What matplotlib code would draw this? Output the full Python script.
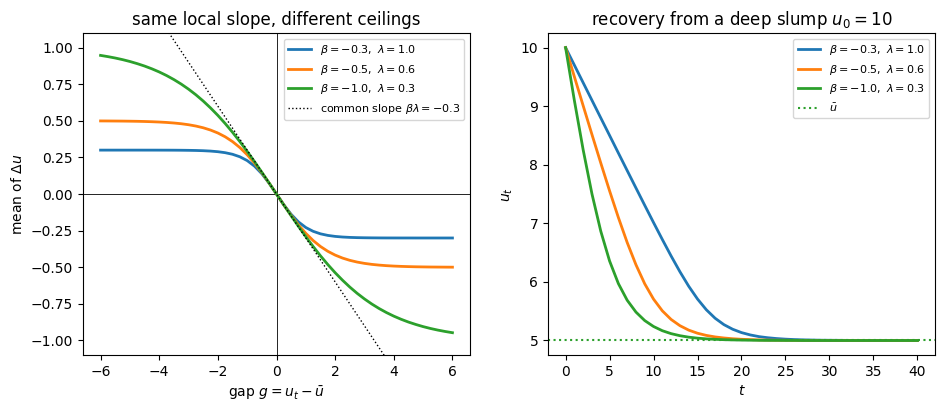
import numpy as np
import matplotlib
matplotlib.use("Agg")
import matplotlib.pyplot as plt

# left panel: mean step vs gap, read at g = -6 ... 6 (step 0.25)
gap = np.arange(-24, 25) / 4.0

pos_blue = [0.0, -0.0735, -0.1386, -0.1905, -0.2285, -0.2545, -0.2716, -0.2824,
            -0.2892, -0.2934, -0.2960, -0.2976, -0.2985, -0.2991, -0.2995, -0.2997,
            -0.2998, -0.2999, -0.2999, -0.3000, -0.3000, -0.3000, -0.3000, -0.3000, -0.3000]
pos_orange = [0.0, -0.0744, -0.1457, -0.2110, -0.2685, -0.3176, -0.3582, -0.3909,
              -0.4168, -0.4370, -0.4526, -0.4644, -0.4734, -0.4802, -0.4852, -0.4890,
              -0.4918, -0.4939, -0.4955, -0.4967, -0.4975, -0.4982, -0.4986, -0.4990, -0.4993]
pos_green = [0.0, -0.0749, -0.1489, -0.2213, -0.2913, -0.3584, -0.4219, -0.4815,
             -0.5371, -0.5881, -0.6352, -0.6779, -0.7163, -0.7509, -0.7818, -0.8093,
             -0.8337, -0.8551, -0.8741, -0.8905, -0.9052, -0.9179, -0.9289, -0.9384, -0.9468]

mean_blue = [-v for v in pos_blue[:0:-1]] + pos_blue
mean_orange = [-v for v in pos_orange[:0:-1]] + pos_orange
mean_green = [-v for v in pos_green[:0:-1]] + pos_green

slope_g = [-6, 6]
slope_y = [1.8, -1.8]

# right panel: u_t for t = 0..40
t = np.arange(41)
u_blue = [10.0, 9.700, 9.400, 9.100, 8.800, 8.501, 8.201, 7.902, 7.604, 7.307,
          7.013, 6.724, 6.442, 6.174, 5.926, 5.708, 5.525, 5.380, 5.271, 5.192,
          5.135, 5.095, 5.066, 5.047, 5.033, 5.023, 5.016, 5.011, 5.008, 5.005,
          5.004, 5.003, 5.002, 5.001, 5.001, 5.001, 5.000, 5.000, 5.000, 5.000, 5.000]
u_orange = [10.0, 9.502, 9.007, 8.515, 8.030, 7.555, 7.100, 6.674, 6.293, 5.967,
            5.706, 5.506, 5.359, 5.253, 5.177, 5.124, 5.087, 5.061, 5.043, 5.030,
            5.021, 5.015, 5.010, 5.007, 5.005, 5.004, 5.002, 5.002, 5.001, 5.001,
            5.001, 5.000, 5.000, 5.000, 5.000, 5.000, 5.000, 5.000, 5.000, 5.000, 5.000]
u_green = [10.0, 9.095, 8.253, 7.501, 6.866, 6.358, 5.972, 5.688, 5.485, 5.340,
           5.239, 5.167, 5.117, 5.082, 5.057, 5.040, 5.028, 5.020, 5.014, 5.010,
           5.007, 5.005, 5.003, 5.002, 5.002, 5.001, 5.001, 5.000, 5.000, 5.000,
           5.000, 5.000, 5.000, 5.000, 5.000, 5.000, 5.000, 5.000, 5.000, 5.000, 5.000]
u_bar = 5.0

labels = [r"$\beta=-0.3,\ \lambda=1.0$",
          r"$\beta=-0.5,\ \lambda=0.6$",
          r"$\beta=-1.0,\ \lambda=0.3$"]

fig = plt.figure(figsize=(9.45, 4.12), dpi=100)
ax1 = fig.add_axes([0.0878, 0.138, 0.4096, 0.782])
ax2 = fig.add_axes([0.5799, 0.138, 0.4095, 0.782])

ax1.axhline(0, color="black", lw=0.6)
ax1.axvline(0, color="black", lw=0.6)
ax1.plot(gap, mean_blue, color="C0", lw=2, label=labels[0])
ax1.plot(gap, mean_orange, color="C1", lw=2, label=labels[1])
ax1.plot(gap, mean_green, color="C2", lw=2, label=labels[2])
ax1.plot(slope_g, slope_y, color="black", ls=":", lw=1,
         label=r"common slope $\beta\lambda=-0.3$")
ax1.set_xlim(-6.6, 6.6)
ax1.set_ylim(-1.1, 1.1)
ax1.set_xlabel(r"gap $g=u_t-\bar{u}$")
ax1.set_ylabel(r"mean of $\Delta u$")
ax1.set_title("same local slope, different ceilings")
ax1.legend(loc="upper right", fontsize=8)

ax2.plot(t, u_blue, color="C0", lw=2, label=labels[0])
ax2.plot(t, u_orange, color="C1", lw=2, label=labels[1])
ax2.plot(t, u_green, color="C2", lw=2, label=labels[2])
ax2.axhline(u_bar, color="C2", ls=":", lw=1.5, label=r"$\bar{u}$")
ax2.set_xlabel(r"$t$")
ax2.set_ylabel(r"$u_t$")
ax2.set_title(r"recovery from a deep slump $u_0=10$")
ax2.legend(loc="upper right", fontsize=8)

fig.savefig("out.png", dpi=100)
